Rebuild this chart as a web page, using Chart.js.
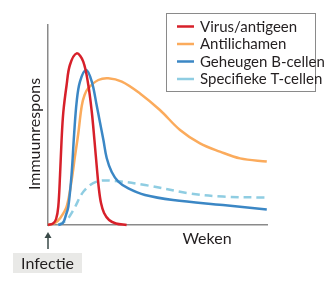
<!DOCTYPE html>
<html>
<head>
<meta charset="utf-8">
<script src="https://cdn.jsdelivr.net/npm/chart.js@4/dist/chart.umd.min.js"></script>
<style>
html,body{margin:0;padding:0;background:#fff;}
#c{display:block;}
</style>
</head>
<body>
<canvas id="c" width="330" height="291"></canvas>
<script>
// Series labels
const seriesLabels = ["Virus/antigeen", "Antilichamen", "Geheugen B-cellen", "Specifieke T-cellen"];
// x positions (relative time, 0-100) and values (relative response, 0-100) for each series
const virusX = [0, 2.3, 3.7, 4.7, 5.5, 6.2, 7.0, 8.5, 10.0, 13.1, 16.1, 18.4, 20.0, 21.2, 22.4, 23.3, 24.2, 25.6, 27.9, 31.0, 35.9];
const virusY = [0, 0.75, 3, 9.2, 25, 42.5, 56.5, 70, 80, 85.8, 81.7, 70, 56.5, 42.5, 27.5, 17.5, 11, 6, 2.5, 0.75, 0];
const antiX = [0, 3.2, 5.5, 8.5, 10.8, 12.3, 13.8, 15.4, 16.7, 18.4, 23.0, 27.5, 33.7, 42.0, 51.1, 60.3, 69.4, 78.5, 87.7, 99.9];
const antiY = [0, 1, 3.4, 9.2, 22.5, 34.2, 45.5, 59.5, 65, 68.4, 72.5, 73.4, 71.7, 65.8, 57.5, 47.5, 40.8, 36.7, 33.3, 31.7];
const bcellX = [4.7, 6.8, 8.2, 9.3, 10.8, 11.9, 13.1, 14.6, 17.4, 20.0, 22.2, 23.7, 25.3, 26.8, 29.1, 32.1, 36.7, 44.3, 57.1, 79.9, 99.9];
const bcellY = [0, 1, 5, 9.2, 25.8, 45, 61.7, 71.7, 77.5, 71.7, 60, 51.5, 42.5, 33.5, 26.5, 21.7, 18.3, 15, 12.5, 10, 7.8];
const tcellX = [4.6, 8.5, 11.6, 16.4, 22.2, 30.6, 44.3, 64.8, 79.9, 99.9];
const tcellY = [0, 2.5, 7.5, 17, 21.7, 22, 20, 15.8, 14.2, 13.7];
// Texts
const yTitle = "Immuunrespons";
const xTitle = "Weken";
const markerLabel = "Infectie";

const colors = ["#d7202a", "#fbab5c", "#3b87c5", "#8fcde2"];
const pts = (xs, ys) => xs.map((x, i) => ({x: x, y: ys[i]}));

const FONT = 'Lato, "Noto Sans", sans-serif';

const overlay = {
  id: 'overlay',
  afterDraw(chart) {
    const ctx = chart.ctx;
    const xs = chart.scales.x, ys = chart.scales.y;
    const x0 = xs.getPixelForValue(0);
    const yb = ys.getPixelForValue(0);
    ctx.save();
    // y title
    ctx.fillStyle = '#231f20';
    ctx.font = '16px ' + FONT;
    ctx.textAlign = 'center';
    ctx.textBaseline = 'middle';
    ctx.translate(35, 134);
    ctx.rotate(-Math.PI / 2);
    ctx.fillText(yTitle, 0, 0);
    ctx.restore();
    ctx.save();
    ctx.fillStyle = '#231f20';
    ctx.font = '16px ' + FONT;
    ctx.textAlign = 'center';
    ctx.textBaseline = 'middle';
    ctx.fillText(xTitle, 207, yb + 14);
    // arrow
    ctx.strokeStyle = '#3a4a48';
    ctx.fillStyle = '#3a4a48';
    ctx.lineWidth = 1.5;
    ctx.beginPath();
    ctx.moveTo(x0, yb + 24);
    ctx.lineTo(x0, yb + 12);
    ctx.stroke();
    ctx.beginPath();
    ctx.moveTo(x0, yb + 7);
    ctx.lineTo(x0 - 3.5, yb + 13);
    ctx.lineTo(x0 + 3.5, yb + 13);
    ctx.closePath();
    ctx.fill();
    // Infectie box
    ctx.fillStyle = '#e9e9e7';
    ctx.fillRect(13, 253, 69, 20);
    ctx.fillStyle = '#231f20';
    ctx.fillText(markerLabel, 47.5, 263.5);
    // legend box
    ctx.strokeStyle = '#8a8a8a';
    ctx.lineWidth = 1;
    ctx.fillStyle = '#fff';
    ctx.fillRect(166, 13, 150, 79);
    ctx.strokeRect(166.5, 13.5, 149, 78);
    ctx.font = '15px ' + FONT;
    ctx.textAlign = 'left';
    seriesLabels.forEach((lab, i) => {
      const y = 26.5 + i * 17.5;
      ctx.strokeStyle = colors[i];
      ctx.lineWidth = 2.5;
      ctx.beginPath();
      ctx.moveTo(177, y);
      ctx.lineTo(194, y);
      ctx.stroke();
      ctx.fillStyle = '#231f20';
      ctx.fillText(lab, 200, y + 0.5);
    });
    ctx.restore();
  }
};

new Chart(document.getElementById('c'), {
  type: 'line',
  data: {
    datasets: [
      {label: seriesLabels[0], data: pts(virusX, virusY), borderColor: colors[0], order: 0},
      {label: seriesLabels[1], data: pts(antiX, antiY), borderColor: colors[1], order: 2},
      {label: seriesLabels[2], data: pts(bcellX, bcellY), borderColor: colors[2], order: 1},
      {label: seriesLabels[3], data: pts(tcellX, tcellY), borderColor: colors[3], borderDash: [8, 5], order: 3}
    ].map(d => Object.assign({
      borderWidth: 2.5, pointRadius: 0, fill: false,
      tension: 0.35, clip: false
    }, d))
  },
  options: {
    responsive: false,
    animation: false,
    events: [],
    layout: {padding: {left: 48, top: 25, right: 63, bottom: 66}},
    plugins: {legend: {display: false}, tooltip: {enabled: false}},
    scales: {
      x: {
        type: 'linear', min: 0, max: 100,
        grid: {display: false, drawTicks: false},
        ticks: {display: false},
        border: {color: '#8a8a8a', width: 1.5},
        afterFit(s) { s.height = 0; }
      },
      y: {
        min: 0, max: 100,
        grid: {display: false, drawTicks: false},
        ticks: {display: false},
        border: {color: '#8a8a8a', width: 1.5},
        afterFit(s) { s.width = 0; }
      }
    }
  },
  plugins: [overlay]
});
</script>
</body>
</html>
